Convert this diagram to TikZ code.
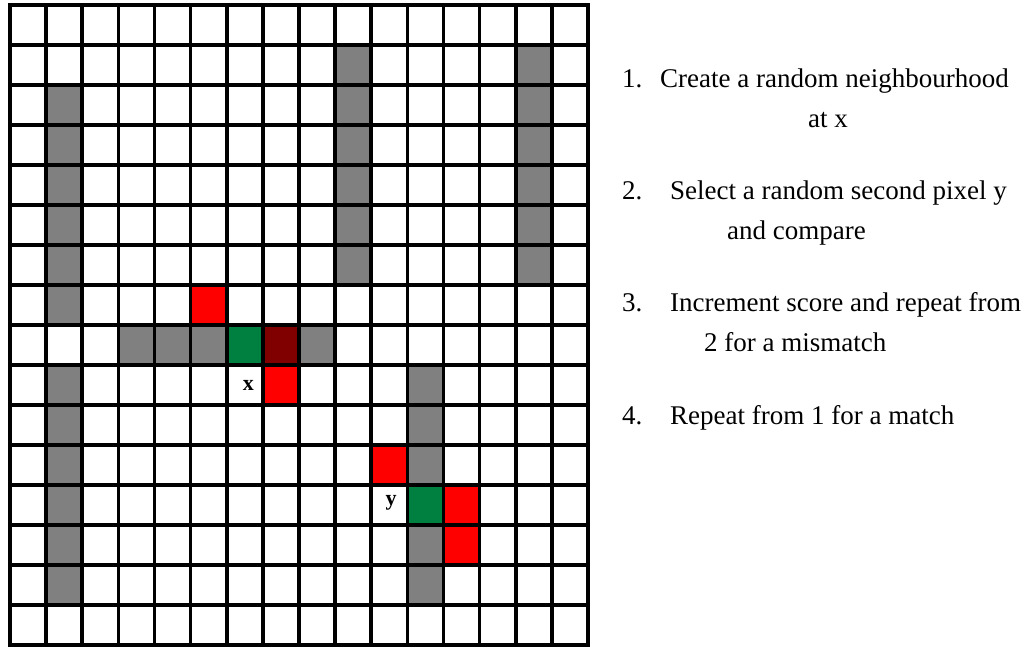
\documentclass[tikz,border=0pt]{standalone}
\usepackage{fontspec}
\setmainfont{Liberation Serif}
\usepackage{tikz}
\usetikzlibrary{positioning}

\definecolor{cellgray}{RGB}{128,128,128}
\definecolor{cellgreen}{RGB}{0,128,64}
\definecolor{celldark}{RGB}{128,0,0}

\begin{document}
\begin{tikzpicture}[x=1pt, y=-1pt,
    gridline/.style={draw=black, line width=3.6pt},
    graycell/.style={fill=cellgray},
    redcell/.style={fill=red},
    greencell/.style={fill=cellgreen},
    darkcell/.style={fill=celldark},
    steptext/.style={anchor=base west, inner sep=0pt, font=\fontsize{27}{32}\selectfont},
    pixlabel/.style={font=\fontsize{22}{24}\selectfont\bfseries}]

    \fill[white] (0,0) rectangle (1034,648);
    \useasboundingbox (0,0) rectangle (1034,648);

    \begin{scope}[shift={(10,5)}, x=36.125pt, y=-40pt]
        \foreach \c/\r in {1/2,1/3,1/4,1/5,1/6,1/7,1/9,1/10,1/11,1/12,1/13,1/14,
                           9/1,9/2,9/3,9/4,9/5,9/6,14/1,14/2,14/3,14/4,14/5,14/6,
                           3/8,4/8,5/8,8/8,11/9,11/10,11/11,11/13,11/14}
            \fill[graycell] (\c,\r) rectangle ++(1,1);
        \foreach \c/\r in {5/7,7/9,10/11,12/12,12/13}
            \fill[redcell] (\c,\r) rectangle ++(1,1);
        \foreach \c/\r in {6/8,11/12}
            \fill[greencell] (\c,\r) rectangle ++(1,1);
        \fill[darkcell] (7,8) rectangle ++(1,1);

        \foreach \i in {0,...,16} {
            \draw[gridline] (\i,0) -- (\i,16);
            \draw[gridline] (0,\i) -- (16,\i);
        }
        \draw[line width=4.5pt] (0,0) rectangle (16,16);

        \node[pixlabel] (px) at (6.6,9.52) {x};
        \node[pixlabel] (py) at (10.55,12.45) {y};
    \end{scope}

    \node[steptext] (num1) at (622,87) {1.};
    \node[steptext] (step1a) at (660,87) {Create a random neighbourhood};
    \node[steptext] (step1b) at (808,127) {at x};

    \node[steptext] (num2) at (622,199) {2.};
    \node[steptext] (step2a) at (670,199) {Select a random second pixel y};
    \node[steptext] (step2b) at (727,239) {and compare};

    \node[steptext] (num3) at (622,311) {3.};
    \node[steptext] (step3a) at (670,311) {Increment score and repeat from};
    \node[steptext] (step3b) at (704,351) {2 for a mismatch};

    \node[steptext] (num4) at (622,424) {4.};
    \node[steptext] (step4a) at (670,424) {Repeat from 1 for a match};

\end{tikzpicture}
\end{document}
